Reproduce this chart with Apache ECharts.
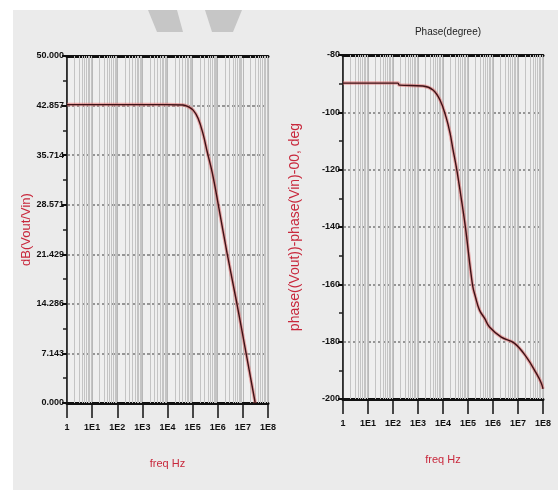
<!DOCTYPE html>
<html>
<head>
<meta charset="utf-8">
<script src="https://cdn.jsdelivr.net/npm/echarts@6/dist/echarts.min.js"></script>
<style>
  html, body { margin: 0; padding: 0; background: #ffffff; }
  #chart { width: 558px; height: 490px; }
</style>
</head>
<body>
<div id="chart"></div>
<script>
// 幅频数据 (freq Hz -> dB)
const magFreq = [1, 10, 100, 1000, 1e4, 4.2e4, 6.6e4, 1.05e5, 1.66e5, 2.63e5, 3.8e5, 6.03e5, 1.05e6, 2.4e6, 5.8e6, 1.35e7, 3.1e7];
const magDb = [43.0, 43.0, 43.0, 43.0, 43.0, 42.95, 42.7, 42.2, 41.0, 38.7, 36.2, 33.2, 28.6, 21.4, 14.3, 7.1, 0];

// 相频数据 (freq Hz -> deg)
const phaseFreq = [1, 158, 178, 1585, 3981, 7586, 13183, 19055, 25119, 34674, 54954, 79433, 151356, 2e5, 288403, 4.57e5, 724436, 2.14e6, 7.08e6, 2.14e7, 5.37e7, 8.51e7, 1e8];
const phaseDeg = [-89.8, -89.8, -90.5, -90.8, -92.2, -95.7, -101.6, -107.2, -113, -119.5, -130.6, -140.3, -160.2, -164.5, -169, -171.8, -174.9, -178.4, -180.5, -185.3, -191, -194.4, -196.5];

const xTickLabels = ['1', '1E1', '1E2', '1E3', '1E4', '1E5', '1E6', '1E7', '1E8'];

const myChart = echarts.init(document.getElementById('chart'));

// 对数坐标的次网格线 2..9 × 10^k
const minorLines = [];
for (let k = 0; k < 8; k++) {
  for (let m = 2; m <= 9; m++) minorLines.push({ xAxis: m * Math.pow(10, k) });
}

const tickFont = {
  fontFamily: 'Liberation Sans Narrow, Liberation Sans, Arial',
  fontSize: 9,
  fontWeight: 'bold',
  color: '#111'
};
const red = '#c8283c';

const makeX = (gridIndex) => ([
  {
    type: 'log', logBase: 10, min: 1, max: 1e8, gridIndex,
    name: 'freq Hz', nameLocation: 'middle', nameGap: 55,
    nameTextStyle: { color: red, fontSize: 11, fontFamily: 'Liberation Sans Narrow, Liberation Sans' },
    axisLine: { lineStyle: { color: '#111', width: 3 } },
    axisTick: { show: true, length: 15, lineStyle: { color: '#111', width: 1.5 } },
    axisLabel: Object.assign({ margin: 20, formatter: (v) => xTickLabels[Math.round(Math.log10(v))] }, tickFont),
    splitLine: { show: true, lineStyle: { color: '#b8b8b8', width: 1 } }
  },
  {
    type: 'log', logBase: 10, min: 1, max: 1e8, gridIndex, position: 'top',
    axisLine: { lineStyle: { color: '#111', width: 3 } },
    axisTick: { show: false }, axisLabel: { show: false }, splitLine: { show: false }
  }
]);

const makeLines = (xi, yi, fx, fy) => {
  const pts = fx.map((f, i) => [f, fy[i]]);
  return [
    {
      // 次网格线
      type: 'line', xAxisIndex: xi, yAxisIndex: yi, data: [], z: 1, silent: true,
      markLine: {
        z: 1, silent: true, symbol: 'none', label: { show: false },
        lineStyle: { color: '#c4c4c4', width: 1, type: 'solid' },
        data: minorLines, animation: false
      }
    },
    {
      type: 'line', xAxisIndex: xi, yAxisIndex: yi, data: pts, smooth: 0.4,
      symbol: 'none', silent: true, z: 3,
      lineStyle: { color: 'rgba(225,110,110,0.55)', width: 3.5 }
    },
    {
      type: 'line', xAxisIndex: xi, yAxisIndex: yi, data: pts, smooth: 0.4,
      symbol: 'none', silent: true, z: 4,
      lineStyle: { color: '#3e1216', width: 1.4 }
    }
  ];
};

const options = {
  animation: false,
  backgroundColor: '#ffffff',
  graphic: [
    { type: 'rect', shape: { x: 13, y: 10, width: 545, height: 480 }, style: { fill: '#ebebeb' }, z: -10 },
    { type: 'polygon', shape: { points: [[148, 10], [177, 10], [183, 32], [157, 32]] }, style: { fill: '#c6c6c6' }, z: -9 },
    { type: 'polygon', shape: { points: [[205, 10], [242, 10], [233, 32], [212, 32]] }, style: { fill: '#c6c6c6' }, z: -9 }
  ],
  title: {
    text: 'Phase(degree)', left: 443, top: 22, textAlign: 'center',
    textStyle: { fontSize: 10, fontWeight: 'normal', color: '#222', fontFamily: 'Liberation Sans Narrow, Liberation Sans' }
  },
  grid: [
    { left: 67, top: 56, width: 201, height: 347, show: true, backgroundColor: '#efefef', borderColor: '#222', borderWidth: 1.5, outerBoundsMode: 'none' },
    { left: 343, top: 55, width: 200, height: 344, show: true, backgroundColor: '#efefef', borderColor: '#222', borderWidth: 1.5, outerBoundsMode: 'none' }
  ],
  xAxis: [...makeX(0), ...makeX(1)],
  yAxis: [
    {
      type: 'value', gridIndex: 0, min: 0, max: 50, interval: 50 / 7,
      name: 'dB(Vout/Vin)', nameLocation: 'middle', nameGap: 29,
      nameTextStyle: { color: red, fontSize: 13, fontFamily: 'Liberation Sans' },
      axisLine: { show: true, lineStyle: { color: '#222', width: 1.5 } },
      axisTick: { show: true, length: 5, lineStyle: { color: '#111', width: 2 } },
      minorTick: { show: true, splitNumber: 2, length: 4, lineStyle: { color: '#222', width: 1.5 } },
      axisLabel: Object.assign({ margin: 3, formatter: (v) => v.toFixed(3) }, tickFont),
      splitLine: { show: true, lineStyle: { color: '#7a7a7a', width: 1.5, type: [3, 2] } }
    },
    {
      type: 'value', gridIndex: 1, min: -200, max: -80, interval: 20,
      name: 'phase((Vout))-phase(Vin)-00, deg', nameLocation: 'middle', nameGap: 41,
      nameTextStyle: { color: red, fontSize: 14, fontFamily: 'Liberation Sans' },
      axisLine: { show: true, lineStyle: { color: '#222', width: 1.5 } },
      axisTick: { show: true, length: 5, lineStyle: { color: '#111', width: 2 } },
      minorTick: { show: true, splitNumber: 2, length: 4, lineStyle: { color: '#222', width: 1.5 } },
      axisLabel: Object.assign({ margin: 3 }, tickFont),
      splitLine: { show: true, lineStyle: { color: '#7a7a7a', width: 1.5, type: [3, 2] } }
    }
  ],
  series: [
    ...makeLines(0, 0, magFreq, magDb),
    ...makeLines(2, 1, phaseFreq, phaseDeg)
  ]
};

myChart.setOption(options);
</script>
</body>
</html>
